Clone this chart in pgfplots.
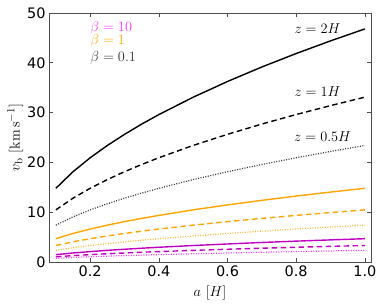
\documentclass[border=0pt]{standalone}
\usepackage{pgfplots}
\usepackage{pgfplotstable}
\pgfplotsset{compat=1.18}
\usepackage[no-math]{fontspec}
\setmainfont{DejaVu Sans}
\definecolor{mag}{HTML}{C000C0}
\definecolor{magl}{HTML}{FF33FF}
\definecolor{org}{HTML}{FFA500}
\pgfplotstableread{
a    k2    k1    k05   o2    o1    o05   m2    m1    m05
0.10 14.80 10.47 7.40  4.68  3.31  2.34  1.48  1.05  0.74
0.15 18.13 12.82 9.06  5.73  4.05  2.87  1.81  1.28  0.91
0.20 20.93 14.80 10.46 6.62  4.68  3.31  2.09  1.48  1.05
0.25 23.40 16.55 11.70 7.40  5.24  3.70  2.34  1.66  1.17
0.30 25.63 18.13 12.82 8.11  5.73  4.05  2.56  1.81  1.28
0.35 27.69 19.58 13.84 8.76  6.19  4.38  2.77  1.96  1.38
0.40 29.60 20.94 14.80 9.36  6.62  4.68  2.96  2.09  1.48
0.50 33.09 23.41 16.55 10.47 7.40  5.23  3.31  2.34  1.65
0.60 36.25 25.64 18.13 11.46 8.11  5.73  3.62  2.56  1.81
0.70 39.16 27.70 19.58 12.38 8.76  6.19  3.92  2.77  1.96
0.80 41.86 29.61 20.93 13.24 9.36  6.62  4.19  2.96  2.09
0.90 44.40 31.40 22.20 14.04 9.93  7.02  4.44  3.14  2.22
1.00 46.80 33.10 23.40 14.80 10.47 7.40  4.68  3.31  2.34
}\datatab
\begin{document}
\begin{tikzpicture}[x=1bp,y=1bp]
\begin{axis}[
  scale only axis, width=322bp, height=249bp,
  xmin=0.08, xmax=1.018, ymin=0, ymax=50,
  xtick={0.2,0.4,0.6,0.8,1.0}, ytick={0,10,20,30,40,50},
  xticklabels={0.2,0.4,0.6,0.8,1.0},
  tick align=inside, tick pos=both, major tick length=4bp,
  axis line style={draw=black!70, line width=0.8bp},
  every tick/.style={black!70, line width=0.6bp},
  /pgf/number format/assume math mode=true,
  tick label style={font=\fontsize{14.5}{16}\selectfont},
  xlabel={$a\ [H]$}, ylabel={$v_{\rm b}\ [{\rm km\,s^{-1}}]$},
  label style={font=\fontsize{15}{17}\selectfont},
  xlabel style={yshift=-2bp},
  ylabel style={yshift=-3bp},
  clip=false,
]
\addplot[black, line width=1.4bp] table[x=a,y=k2]{\datatab};
\addplot[black, line width=1.4bp, dash pattern=on 5.5bp off 3.5bp] table[x=a,y=k1]{\datatab};
\addplot[black!80, line width=1.2bp, dash pattern=on 1bp off 1.5bp] table[x=a,y=k05]{\datatab};
\addplot[org, line width=1.4bp] table[x=a,y=o2]{\datatab};
\addplot[org, line width=1.4bp, dash pattern=on 5.5bp off 3.5bp] table[x=a,y=o1]{\datatab};
\addplot[org!80, line width=1.2bp, dash pattern=on 1bp off 1.5bp] table[x=a,y=o05]{\datatab};
\addplot[mag, line width=1.4bp] table[x=a,y=m2]{\datatab};
\addplot[mag, line width=1.4bp, dash pattern=on 5.5bp off 3.5bp] table[x=a,y=m1]{\datatab};
\addplot[magl, line width=1.2bp, dash pattern=on 1bp off 1.5bp] table[x=a,y=m05]{\datatab};
\node[anchor=west, magl, font=\fontsize{14}{16}\selectfont, inner sep=0pt] at (axis cs:0.2,47.0) {$\beta=10$};
\node[anchor=west, org, font=\fontsize{14}{16}\selectfont, inner sep=0pt] at (axis cs:0.2,44.3) {$\beta=1$};
\node[anchor=west, black!80, font=\fontsize{14}{16}\selectfont, inner sep=0pt] at (axis cs:0.2,41.0) {$\beta=0.1$};
\node[font=\fontsize{14}{16}\selectfont] at (axis cs:0.862,46.8) {$z=2H$};
\node[font=\fontsize{14}{16}\selectfont] at (axis cs:0.862,34.2) {$z=1H$};
\node[font=\fontsize{14}{16}\selectfont] at (axis cs:0.877,25.2) {$z=0.5H$};
\end{axis}
\pgfresetboundingbox
\path ([shift={(-49bp,-43bp)}]current axis.south west) rectangle ([shift={(11bp,13bp)}]current axis.north east);
\end{tikzpicture}
\end{document}
